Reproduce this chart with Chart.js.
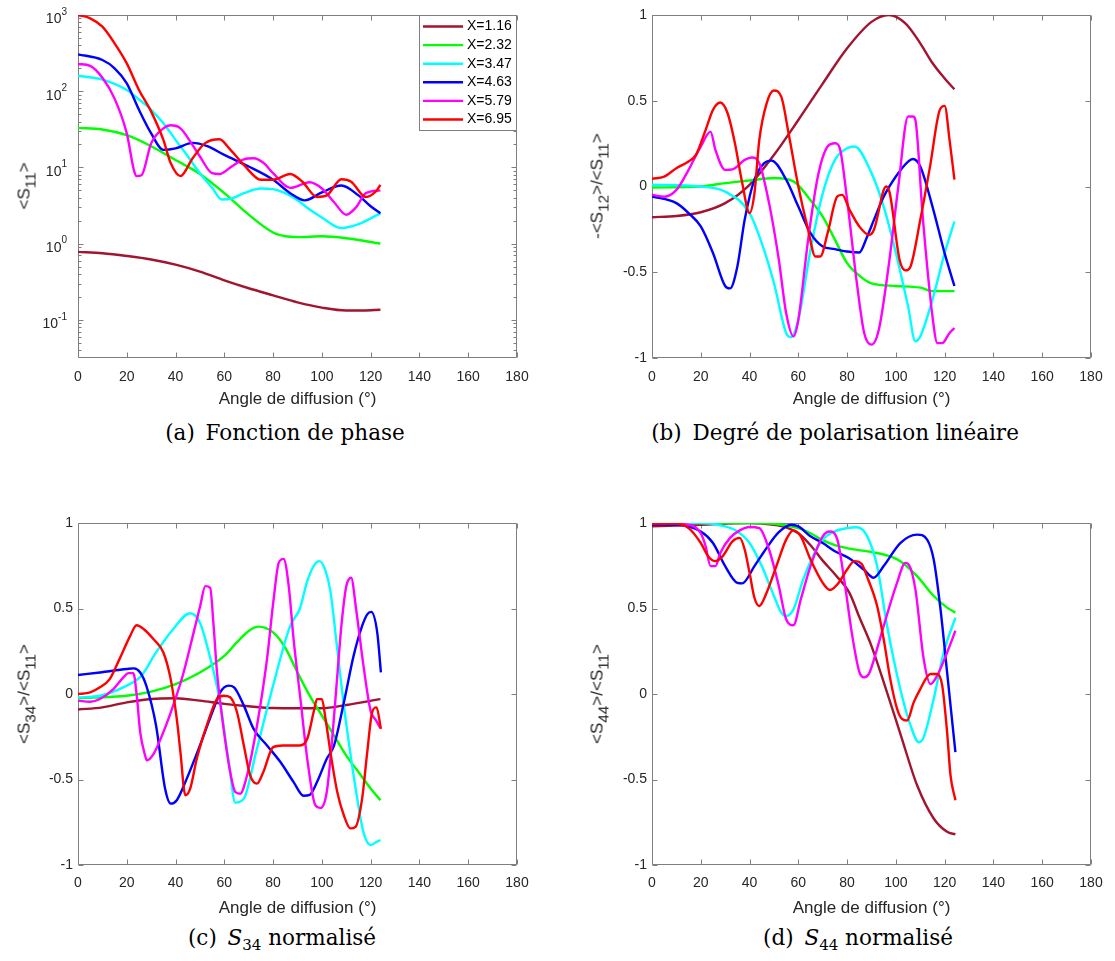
<!DOCTYPE html>
<html>
<head>
<meta charset="utf-8">
<script src="https://cdn.jsdelivr.net/npm/chart.js@4.4.1/dist/chart.umd.min.js"></script>
<style>
  body { margin: 0; background: #fff; width: 1115px; height: 961px; position: relative; overflow: hidden; }
  canvas { position: absolute; }
  .ytitle { position: absolute; font-family: "Liberation Sans", Arial, sans-serif; font-size: 17px; line-height: 17px; color: #262626; white-space: nowrap; transform: translate(-50%, -50%) rotate(-90deg); }
  .ytitle sub { font-size: 0.9em; line-height: 0; vertical-align: -0.4em; }
  .caption { position: absolute; font-family: "DejaVu Serif", serif; font-size: 21.5px; line-height: 21.5px; color: #000; white-space: nowrap; transform: translateX(-50%); }
  .caption sub { font-size: 0.7em; line-height: 0; vertical-align: -0.3em; }
</style>
</head>
<body>
<canvas id="pa" width="560" height="420" style="left:0;top:0"></canvas>
<canvas id="pb" width="540" height="420" style="left:575px;top:0"></canvas>
<canvas id="pc" width="560" height="420" style="left:0;top:505px"></canvas>
<canvas id="pd" width="540" height="420" style="left:575px;top:505px"></canvas>

<div class="ytitle" style="left:24px;top:186px">&lt;S<sub>11</sub>&gt;</div>
<div class="ytitle" style="left:597px;top:186px">-&lt;S<sub>12</sub>&gt;/&lt;S<sub>11</sub>&gt;</div>
<div class="ytitle" style="left:24px;top:694px">&lt;S<sub>34</sub>&gt;/&lt;S<sub>11</sub>&gt;</div>
<div class="ytitle" style="left:597px;top:694px">&lt;S<sub>44</sub>&gt;/&lt;S<sub>11</sub>&gt;</div>

<div class="caption" style="left:285px;top:422px">(a)&ensp;Fonction de phase</div>
<div class="caption" style="left:835px;top:422px">(b)&ensp;Degré de polarisation linéaire</div>
<div class="caption" style="left:282px;top:927px">(c)&ensp;<i>S</i><sub>34</sub> normalisé</div>
<div class="caption" style="left:858px;top:927px">(d)&ensp;<i>S</i><sub>44</sub> normalisé</div>

<script>
// valeurs : [angle (°), valeur]
const sizeLabels = ['X=1.16', 'X=2.32', 'X=3.47', 'X=4.63', 'X=5.79', 'X=6.95'];
const angleTicks = [0, 20, 40, 60, 80, 100, 120, 140, 160, 180];
const linTicks = [-1, -0.5, 0, 0.5, 1];
const logDecades = [-1, 0, 1, 2, 3];

// (a) fonction de phase <S11>
const s11_x116 = [[0,0.78],[10,0.75],[20,0.69],[30,0.62],[40,0.53],[50,0.43],[60,0.33],[70,0.26],[80,0.21],[90,0.17],[100,0.145],[110,0.133],[117,0.133],[124,0.136]];
const s11_x232 = [[0,33],[10,31.5],[20,26.5],[30,19],[40,12.5],[50,8.2],[60,4.6],[70,2.4],[80,1.4],[85,1.25],[90,1.22],[100,1.25],[110,1.18],[124,1.0]];
const s11_x347 = [[0,160],[10,142],[20,104],[25,78],[30,57],[35,38],[40,23],[45,14],[50,8.4],[55,5.4],[59,3.8],[63,3.9],[68,4.6],[75,5.3],[80,5.2],[85,4.6],[90,3.7],[95,2.8],[100,2.2],[108,1.6],[115,1.8],[124,2.5]];
const s11_x463 = [[0,305],[10,257],[15,200],[20,127],[25,57],[30,28],[35,17],[40,17.8],[47,21],[53,19],[60,14.6],[70,10.3],[80,6.9],[87,4.6],[93,3.7],[100,4.7],[108,5.8],[115,4.3],[120,3.1],[124,2.5]];
const s11_x579 = [[0,228],[5,215],[10,150],[15,80],[20,28],[23,9],[24,7.7],[26,7.9],[30,20.7],[35,32.6],[38,35.7],[42,32.6],[46,22],[50,13.9],[55,8.4],[58,8.2],[63,10.3],[68,12.8],[72,13.2],[76,11.5],[80,8.4],[87,5.4],[95,6.4],[100,5.3],[105,3.5],[110,2.4],[114,3],[118,4.6],[124,5.0]];
const s11_x695 = [[0,1000],[5,904],[10,703],[15,425],[20,232],[25,104],[30,54],[35,23],[38,11.4],[42,7.7],[47,13.2],[52,20.7],[58,23.4],[62,17.8],[68,10.8],[75,6.9],[80,6.9],[87,8.2],[92,6.5],[98,4.1],[102,4.3],[108,7.0],[112,6.5],[118,4.1],[122,4.8],[124,5.9]];

// (b) degré de polarisation linéaire -<S12>/<S11>
const s12_x116 = [[0,-0.179],[10,-0.172],[20,-0.15],[30,-0.097],[40,0.01],[50,0.184],[60,0.388],[70,0.6],[80,0.806],[90,0.96],[97,1.0],[104,0.95],[110,0.835],[115,0.72],[120,0.63],[124,0.567]];
const s12_x232 = [[0,-0.006],[20,0],[30,0.02],[40,0.035],[50,0.05],[58,0.03],[65,-0.08],[70,-0.175],[75,-0.31],[80,-0.447],[85,-0.52],[90,-0.565],[100,-0.58],[110,-0.59],[115,-0.61],[124,-0.61]];
const s12_x347 = [[0,0.01],[20,0],[30,-0.03],[40,-0.155],[45,-0.33],[50,-0.563],[55,-0.854],[57,-0.878],[60,-0.777],[65,-0.369],[70,-0.04],[75,0.155],[80,0.223],[83,0.233],[90,0.078],[95,-0.117],[100,-0.388],[105,-0.7],[108,-0.903],[110,-0.874],[115,-0.66],[120,-0.388],[124,-0.204]];
const s12_x463 = [[0,-0.058],[10,-0.097],[15,-0.155],[20,-0.233],[25,-0.388],[30,-0.58],[32,-0.594],[35,-0.466],[38,-0.194],[42,0.04],[46,0.136],[49,0.151],[55,0.04],[60,-0.117],[65,-0.272],[70,-0.35],[75,-0.365],[80,-0.379],[85,-0.385],[88,-0.3],[90,-0.23],[95,-0.06],[100,0.058],[105,0.145],[107,0.16],[110,0.117],[115,-0.117],[120,-0.39],[124,-0.58]];
const s12_x579 = [[0,-0.049],[5,-0.06],[10,-0.02],[15,0.097],[20,0.233],[24,0.32],[26,0.214],[30,0.097],[33,0.1],[38,0.155],[41,0.169],[44,0.136],[48,-0.097],[52,-0.427],[55,-0.738],[58,-0.874],[60,-0.777],[64,-0.311],[68,0.058],[72,0.233],[75,0.252],[77,0.223],[80,-0.078],[84,-0.563],[87,-0.854],[90,-0.922],[93,-0.835],[97,-0.466],[101,0],[105,0.408],[107,0.408],[108,0.388],[111,-0.175],[115,-0.757],[117,-0.913],[119,-0.913],[122,-0.854],[124,-0.825]];
const s12_x695 = [[0,0.045],[5,0.058],[10,0.107],[15,0.146],[18,0.184],[22,0.33],[25,0.447],[28,0.49],[31,0.427],[34,0.252],[37,0.02],[40,-0.155],[42,-0.04],[44,0.272],[47,0.485],[50,0.56],[53,0.524],[56,0.31],[60,0],[64,-0.252],[67,-0.408],[69,-0.408],[72,-0.272],[76,-0.058],[78,-0.049],[81,-0.136],[85,-0.233],[89,-0.282],[91,-0.252],[96,0],[97.5,-0.04],[101.5,-0.427],[104,-0.489],[106,-0.466],[110,-0.194],[114,0.117],[118,0.447],[120,0.47],[122,0.272],[124,0.04]];

// (c) S34 normalisé
const s34_x116 = [[0,-0.091],[10,-0.078],[20,-0.049],[30,-0.029],[40,-0.025],[50,-0.039],[60,-0.058],[70,-0.072],[80,-0.082],[90,-0.083],[100,-0.083],[110,-0.064],[124,-0.03]];
const s34_x232 = [[0,-0.025],[20,-0.01],[30,0.014],[40,0.058],[50,0.126],[60,0.223],[65,0.3],[70,0.369],[74,0.394],[80,0.36],[85,0.27],[90,0.126],[95,-0.01],[100,-0.126],[105,-0.243],[110,-0.36],[115,-0.456],[120,-0.553],[124,-0.621]];
const s34_x347 = [[0,-0.02],[9,-0.01],[20,0.049],[26,0.107],[32,0.243],[39,0.379],[46,0.472],[50,0.417],[54,0.223],[58,-0.029],[62,-0.417],[64.5,-0.635],[68,-0.612],[73,-0.34],[80,0.049],[87,0.398],[91,0.5],[94,0.66],[97,0.757],[99,0.777],[101.5,0.72],[103.5,0.6],[106,0.3],[109,-0.068],[112,-0.379],[114.5,-0.612],[117,-0.806],[120,-0.883],[122.5,-0.864],[124,-0.854]];
const s34_x463 = [[0,0.111],[9,0.126],[20,0.146],[23,0.15],[25.5,0.126],[28,0.049],[32,-0.184],[35.7,-0.553],[38,-0.641],[40.5,-0.621],[44.6,-0.495],[50,-0.301],[55.6,-0.087],[58.3,0.01],[61.7,0.049],[64,0.039],[68,-0.068],[72,-0.204],[77.5,-0.301],[83,-0.398],[88.4,-0.515],[92.5,-0.595],[95,-0.59],[98,-0.515],[102,-0.379],[105,-0.3],[109,-0.05],[113,0.223],[116.5,0.398],[118.6,0.466],[120.2,0.48],[122.7,0.359],[124.2,0.126]];
const s34_x579 = [[0,-0.039],[5,-0.045],[9,-0.029],[14.5,0.029],[18.6,0.097],[20.7,0.122],[22.7,0.122],[24.1,-0.01],[25.5,-0.223],[27.5,-0.359],[28.2,-0.388],[31,-0.35],[35,-0.223],[39,-0.068],[43.3,0.126],[47.4,0.359],[50.1,0.515],[52.2,0.631],[54.2,0.621],[55.6,0.398],[57,0.126],[59,-0.126],[62.4,-0.456],[64.5,-0.573],[66.5,-0.583],[69.3,-0.476],[73.4,-0.184],[77.5,0.204],[80.2,0.553],[82.3,0.767],[84.3,0.79],[86.4,0.631],[88.4,0.32],[91.2,-0.029],[94,-0.379],[97.3,-0.65],[99.5,-0.666],[102,-0.573],[104,-0.3],[106,0.05],[108,0.4],[110,0.63],[112,0.68],[114,0.5],[117,0.17],[120,-0.1],[122,-0.15],[124,-0.2]];
const s34_x695 = [[0,0],[5,0.01],[9,0.039],[13,0.087],[17,0.204],[21.4,0.34],[24,0.402],[27,0.379],[31,0.32],[35,0.243],[38,0.087],[40.5,-0.146],[42,-0.34],[44,-0.592],[46,-0.553],[48.7,-0.379],[52.8,-0.184],[57,-0.029],[59.7,-0.01],[62.4,-0.019],[65.2,-0.107],[68,-0.301],[70.6,-0.476],[73.4,-0.524],[76,-0.456],[80,-0.311],[84,-0.301],[91,-0.301],[94,-0.262],[96.6,-0.107],[98,-0.03],[100,-0.03],[101.5,-0.146],[103.5,-0.34],[106.3,-0.573],[109,-0.709],[111.7,-0.786],[113.8,-0.777],[116.5,-0.612],[118.6,-0.34],[120.6,-0.107],[122.4,-0.078],[124.2,-0.204]];

// (d) S44 normalisé
const s44_x116 = [[0,0.98],[20,0.99],[40,1.0],[50,0.99],[55,0.975],[60,0.94],[65,0.87],[70,0.78],[75,0.7],[81,0.59],[85,0.45],[90,0.28],[95,0.07],[102,-0.24],[108.7,-0.534],[115.5,-0.728],[121,-0.806],[124.4,-0.821]];
const s44_x232 = [[0,1.0],[40,1.0],[50,0.996],[60,0.97],[65,0.94],[70,0.9],[75,0.87],[81,0.85],[89.5,0.831],[96.4,0.81],[101.8,0.777],[108.7,0.689],[115.5,0.573],[121,0.505],[124.4,0.476]];
const s44_x347 = [[0,1.0],[20,1.0],[30,0.98],[35,0.95],[40,0.883],[45,0.748],[50,0.573],[53,0.476],[55,0.456],[58,0.495],[62,0.67],[66,0.806],[70,0.903],[75,0.951],[80,0.97],[84,0.975],[88.1,0.926],[92.3,0.748],[96.4,0.398],[101.8,0.029],[106,-0.184],[109.4,-0.282],[111.4,-0.252],[115.5,-0.029],[119.6,0.243],[124.4,0.447]];
const s44_x463 = [[0,0.99],[10,0.99],[20,0.95],[25,0.883],[30,0.748],[35,0.65],[37,0.647],[42,0.748],[47,0.854],[52,0.946],[57,0.99],[60,0.98],[65,0.922],[70,0.883],[75,0.835],[81.3,0.79],[86.8,0.728],[90.9,0.68],[95,0.748],[101.8,0.883],[108.7,0.932],[112.8,0.903],[115.5,0.786],[118.3,0.495],[121,0.126],[124.4,-0.34]];
const s44_x579 = [[0,1.0],[15,0.99],[20,0.94],[22,0.864],[24,0.748],[26,0.748],[28,0.825],[32,0.913],[36,0.957],[40,0.977],[44,0.97],[48,0.845],[52,0.631],[55,0.437],[58,0.402],[61,0.553],[65,0.748],[70,0.922],[73,0.95],[76,0.903],[79,0.65],[82,0.35],[85,0.13],[87,0.097],[89,0.12],[92,0.25],[95,0.398],[100.5,0.651],[103.9,0.767],[105.3,0.757],[108,0.612],[111.4,0.204],[114.2,0.058],[116.9,0.107],[121,0.243],[124.4,0.37]];
const s44_x695 = [[0,0.996],[10,0.996],[15,0.97],[20,0.883],[23,0.806],[26,0.777],[29,0.806],[33,0.893],[36,0.913],[38,0.845],[40,0.709],[42,0.563],[44,0.515],[47,0.592],[51,0.748],[55,0.903],[58,0.957],[61,0.922],[65,0.786],[70,0.65],[73,0.608],[76,0.641],[80,0.728],[83,0.777],[86,0.76],[88.1,0.689],[92.3,0.515],[95,0.32],[97.7,0.087],[100.5,-0.087],[102.5,-0.146],[104.6,-0.155],[107.3,-0.049],[110,0.029],[114.2,0.117],[116.9,0.117],[119,0.049],[121,-0.223],[122.4,-0.476],[124.4,-0.621]];

const seriesColors = ['#a2142f', '#00ff00', '#00ffff', '#0000ff', '#ff00ff', '#ff0000'];
const FONT = '"Liberation Sans", Arial, sans-serif';
const TXT = '#262626';
const AXIS = '#7f7f7f';

// boite, graduations intérieures, labels log et légende façon MATLAB
const matlabAxes = {
    id: 'matlabAxes',
    beforeDatasetsDraw(chart, args, opts) {
        const { ctx, chartArea: a, scales } = chart;
        const L = 5;
        ctx.save();
        ctx.strokeStyle = AXIS;
        ctx.lineWidth = 1;
        ctx.beginPath();
        const l = Math.round(a.left) + 0.5, r = Math.round(a.right) - 0.5;
        const t = Math.round(a.top) + 0.5, b = Math.round(a.bottom) - 0.5;
        ctx.rect(l, t, r - l, b - t);
        scales.x.ticks.forEach(tk => {
            const px = Math.round(scales.x.getPixelForValue(tk.value)) + 0.5;
            ctx.moveTo(px, b); ctx.lineTo(px, b - L);
            ctx.moveTo(px, t); ctx.lineTo(px, t + L);
        });
        const yTick = (v, len) => {
            const py = Math.round(scales.y.getPixelForValue(v)) + 0.5;
            ctx.moveTo(l, py); ctx.lineTo(l + len, py);
            ctx.moveTo(r, py); ctx.lineTo(r - len, py);
        };
        if (opts.log) {
            logDecades.forEach(d => {
                yTick(Math.pow(10, d), L);
                for (let m = 2; m <= 9; m++) {
                    const v = m * Math.pow(10, d - 1);
                    if (v > scales.y.min && v < scales.y.max) yTick(v, 3);
                }
            });
        } else {
            scales.y.ticks.forEach(tk => yTick(tk.value, L));
        }
        ctx.stroke();
        ctx.restore();
    },
    afterDatasetsDraw(chart, args, opts) {
        const { ctx, chartArea: a, scales } = chart;
        ctx.save();
        if (opts.log) {
            ctx.fillStyle = TXT;
            ctx.textAlign = 'right';
            ctx.textBaseline = 'middle';
            logDecades.forEach(d => {
                const py = scales.y.getPixelForValue(Math.pow(10, d));
                const xr = a.left - 11;
                const ex = String(d);
                ctx.font = '10px ' + FONT;
                const ew = ctx.measureText(ex).width;
                ctx.fillText(ex, xr, py - 3);
                ctx.font = '14px ' + FONT;
                ctx.fillText('10', xr - ew, py + 4.5);
            });
        }
        if (opts.legend) {
            const w = 98, h = 116, x0 = Math.round(a.right) - w, y0 = Math.round(a.top);
            ctx.fillStyle = '#fff';
            ctx.fillRect(x0, y0, w, h);
            ctx.strokeStyle = AXIS;
            ctx.lineWidth = 1;
            ctx.strokeRect(x0 + 0.5, y0 + 0.5, w - 1, h - 1);
            ctx.font = '14px ' + FONT;
            ctx.textAlign = 'left';
            ctx.textBaseline = 'middle';
            chart.data.datasets.forEach((ds, i) => {
                const yy = y0 + 11.5 + i * 18.6;
                ctx.strokeStyle = ds.borderColor;
                ctx.lineWidth = 2.4;
                ctx.beginPath();
                ctx.moveTo(x0 + 4, yy); ctx.lineTo(x0 + 44, yy);
                ctx.stroke();
                ctx.fillStyle = '#000';
                ctx.fillText(ds.label, x0 + 48, yy);
            });
        }
        ctx.restore();
    }
};

function makeSets(series) {
    return series.map((pts, i) => ({
        label: sizeLabels[i],
        data: pts.map(p => ({ x: p[0], y: p[1] })),
        borderColor: seriesColors[i],
        borderWidth: 2.4,
        pointRadius: 0,
        fill: false,
        cubicInterpolationMode: 'monotone',
        order: series.length - i
    }));
}

function makePanel(id, series, cfg) {
    const yScale = cfg.log ? {
        type: 'logarithmic',
        min: Math.pow(10, -1.5),
        max: 1000,
        grid: { display: false, drawTicks: false },
        border: { display: false },
        ticks: { display: false },
        afterFit: s => { s.width = cfg.yWidth; }
    } : {
        type: 'linear',
        min: -1,
        max: 1,
        afterBuildTicks: s => { s.ticks = linTicks.map(v => ({ value: v })); },
        grid: { display: false, drawTicks: false },
        border: { display: false },
        ticks: { padding: 5, color: TXT, font: { family: FONT, size: 14 }, callback: v => String(v) },
        afterFit: s => { s.width = cfg.yWidth; }
    };
    return new Chart(document.getElementById(id), {
        type: 'line',
        data: { datasets: makeSets(series) },
        options: {
            responsive: false,
            animation: false,
            events: [],
            layout: { padding: { top: cfg.padTop, right: cfg.padRight, left: 0, bottom: 0 } },
            plugins: {
                legend: { display: false },
                tooltip: { enabled: false },
                matlabAxes: { log: !!cfg.log, legend: !!cfg.legend }
            },
            scales: {
                x: {
                    type: 'linear',
                    min: 0,
                    max: 180,
                    afterBuildTicks: s => { s.ticks = angleTicks.map(v => ({ value: v })); },
                    grid: { display: false, drawTicks: false },
                    border: { display: false },
                    ticks: { padding: cfg.tickPad, color: TXT, maxRotation: 0, autoSkip: false, font: { family: FONT, size: 14 } },
                    title: { display: true, text: 'Angle de diffusion (°)', color: TXT, font: { family: FONT, size: 17 }, padding: { top: 0, bottom: cfg.titlePad } },
                    afterFit: s => { s.height = cfg.xHeight; }
                },
                y: yScale
            }
        },
        plugins: [matlabAxes]
    });
}

makePanel('pa', [s11_x116, s11_x232, s11_x347, s11_x463, s11_x579, s11_x695],
    { log: true, legend: true, yWidth: 78, padTop: 15, padRight: 43, xHeight: 62, tickPad: 11, titlePad: 10 });
makePanel('pb', [s12_x116, s12_x232, s12_x347, s12_x463, s12_x579, s12_x695],
    { yWidth: 77, padTop: 15, padRight: 24, xHeight: 62, tickPad: 11, titlePad: 10 });
makePanel('pc', [s34_x116, s34_x232, s34_x347, s34_x463, s34_x579, s34_x695],
    { yWidth: 78, padTop: 18, padRight: 43, xHeight: 60, tickPad: 10, titlePad: 6 });
makePanel('pd', [s44_x116, s44_x232, s44_x347, s44_x463, s44_x579, s44_x695],
    { yWidth: 77, padTop: 18, padRight: 24, xHeight: 60, tickPad: 10, titlePad: 6 });
</script>
</body>
</html>
